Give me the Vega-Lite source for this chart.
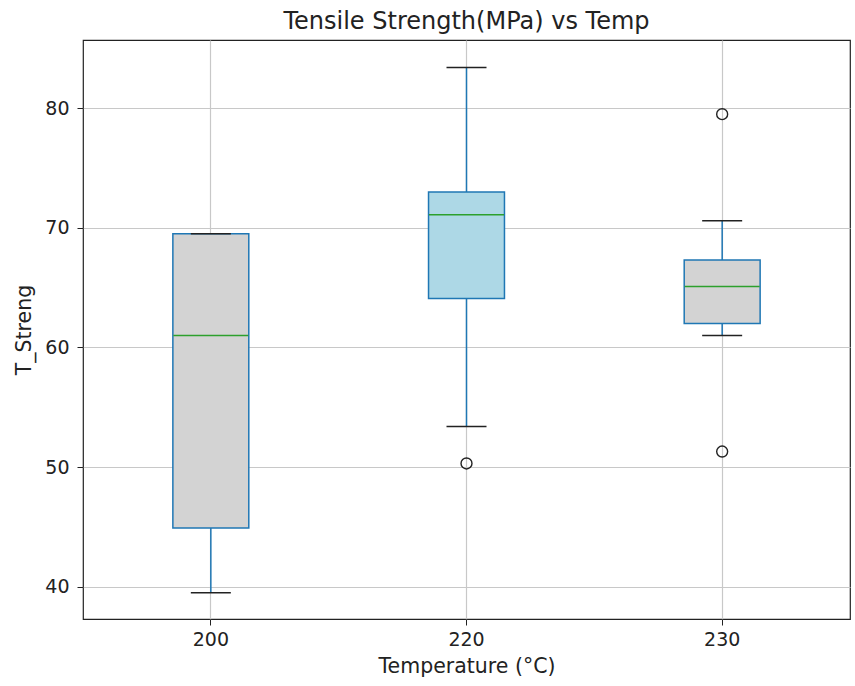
{
  "$schema": "https://vega.github.io/schema/vega-lite/v6.json",
  "width": 767,
  "height": 579,
  "autosize": {"type": "none"},
  "padding": {"left": 83, "top": 40, "right": 5, "bottom": 67},
  "background": "white",
  "config": {
    "font": "DejaVu Sans",
    "view": {"stroke": "#222222", "strokeWidth": 1.2},
    "axis": {
      "labelFont": "DejaVu Sans",
      "titleFont": "DejaVu Sans",
      "labelFontSize": 19,
      "titleFontSize": 20.5,
      "labelColor": "#222222",
      "titleColor": "#222222",
      "titleFontWeight": "normal",
      "tickColor": "#222222",
      "tickSize": 6,
      "tickWidth": 1,
      "domain": false,
      "grid": true,
      "gridColor": "#c8c8c8",
      "gridWidth": 1.2
    }
  },
  "title": {
    "text": "Tensile Strength(MPa) vs Temp",
    "font": "DejaVu Sans",
    "fontSize": 24,
    "fontWeight": "normal",
    "color": "#222222",
    "offset": 6,
    "anchor": "middle"
  },
  "datasets": {
    "boxes": [
      {"temp": "200", "lower": 39.5, "q1": 44.9, "median": 61.0, "q3": 69.5, "upper": 69.5, "fill": "#d3d3d3"},
      {"temp": "220", "lower": 53.4, "q1": 64.1, "median": 71.1, "q3": 73.0, "upper": 83.4, "fill": "#add8e6"},
      {"temp": "230", "lower": 61.0, "q1": 62.0, "median": 65.1, "q3": 67.3, "upper": 70.6, "fill": "#d3d3d3"}
    ],
    "outliers": [
      {"temp": "220", "value": 50.3},
      {"temp": "230", "value": 79.5},
      {"temp": "230", "value": 51.3}
    ]
  },
  "encoding": {
    "x": {
      "field": "temp",
      "type": "nominal",
      "sort": ["200", "220", "230"],
      "scale": {"domain": ["200", "220", "230"], "paddingInner": 0, "paddingOuter": 0},
      "axis": {"title": "Temperature (°C)", "labelAngle": 0, "bandPosition": 0.5, "labelPadding": 5, "titlePadding": 7}
    }
  },
  "layer": [
    {
      "data": {"name": "boxes"},
      "mark": {"type": "rule", "color": "#1f77b4", "strokeWidth": 1.5},
      "encoding": {
        "y": {
          "field": "lower",
          "type": "quantitative",
          "scale": {"domain": [37.3, 85.7], "nice": false, "zero": false},
          "axis": {"title": "T_Streng", "values": [40, 50, 60, 70, 80], "labelPadding": 8, "titlePadding": 10}
        },
        "y2": {"field": "upper"}
      }
    },
    {
      "data": {"name": "boxes"},
      "mark": {"type": "bar", "width": {"band": 0.297}, "stroke": "#1f77b4", "strokeWidth": 1.5},
      "encoding": {
        "y": {"field": "q1", "type": "quantitative"},
        "y2": {"field": "q3"},
        "fill": {"field": "fill", "type": "nominal", "scale": null}
      }
    },
    {
      "data": {"name": "boxes"},
      "mark": {"type": "tick", "color": "#2ca02c", "size": 75, "thickness": 1.5, "opacity": 1},
      "encoding": {"y": {"field": "median", "type": "quantitative"}}
    },
    {
      "data": {"name": "boxes"},
      "mark": {"type": "tick", "color": "#222222", "size": 40, "thickness": 1.5, "opacity": 1},
      "encoding": {"y": {"field": "lower", "type": "quantitative"}}
    },
    {
      "data": {"name": "boxes"},
      "mark": {"type": "tick", "color": "#222222", "size": 40, "thickness": 1.5, "opacity": 1},
      "encoding": {"y": {"field": "upper", "type": "quantitative"}}
    },
    {
      "data": {"name": "outliers"},
      "mark": {"type": "point", "shape": "circle", "filled": false, "stroke": "#222222", "strokeWidth": 1.4, "size": 120, "opacity": 1},
      "encoding": {"y": {"field": "value", "type": "quantitative"}}
    }
  ]
}
